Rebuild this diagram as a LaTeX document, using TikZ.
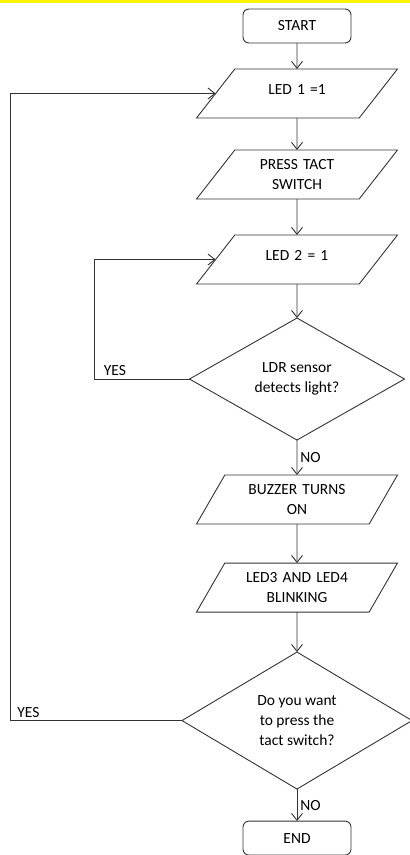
\documentclass[tikz,border=0pt]{standalone}
\usepackage{fontspec}
\setmainfont{Carlito}
\usetikzlibrary{arrows.meta,positioning,shapes.geometric}

\begin{document}
\begin{tikzpicture}[x=1pt, y=-1pt, line width=0.9pt, draw=black!80,
  every node/.style={outer sep=0pt},
  term/.style={draw, rounded corners=6pt, minimum width=108pt, minimum height=34pt, font=\fontsize{15.5}{20}\selectfont},
  io/.style={draw, trapezium, trapezium left angle=52, trapezium right angle=128, inner sep=0pt,
    text width=124.4pt, text height=19.5pt, text depth=29.5pt, align=center, font=\fontsize{15.5}{20}\selectfont},
  oneline/.style={text height=25pt, text depth=24pt},
  steep/.style={trapezium left angle=60, trapezium right angle=120, text width=144.4pt},
  decision/.style={draw, diamond, minimum width=215pt, minimum height=122pt, inner sep=0pt, align=center, font=\fontsize{15.5}{20}\selectfont},
  arrow/.style={-{Straight Barb[length=7pt, width=11pt]}},
  tag/.style={font=\fontsize{15.5}{20}\selectfont},
]
\useasboundingbox (0,0) rectangle (410,855);
\fill[yellow] (0,0) rectangle (410,2.5);

% Nodes
\node[term] (start) at (297,26) {START};
\node[io, oneline, below=26pt of start] (led1) {LED 1 =1};
\node[io, below=32pt of led1] (press) {PRESS TACT\\SWITCH};
\node[io, oneline, below=36pt of press] (led2) {LED 2 = 1};
\node[decision, below=34pt of led2] (ldr) {LDR sensor\\detects light?};
\node[io, steep, below=35pt of ldr] (buzz) {BUZZER TURNS\\ON};
\node[io, steep, below=39pt of buzz] (blink) {LED3 AND LED4\\BLINKING};
\node[decision, minimum width=230pt, minimum height=137pt, below=40pt of blink] (again) {Do you want\\to press the\\tact switch?};
\node[term, below=32pt of again] (end) {END};

% Arrows
\draw[arrow] (start) -- (led1);
\draw[arrow] (led1) -- (press);
\draw[arrow] (press) -- (led2);
\draw[arrow] (led2) -- (ldr);
\draw[arrow] (ldr) -- (buzz) node[midway, right, tag] {NO};
\draw[arrow] (buzz) -- (blink);
\draw[arrow] (blink) -- (again);
\draw[arrow] (again) -- (end) node[midway, right, tag] {NO};

% Loops back
\draw[arrow] (ldr.west) -- ++(-95,0) node[above right, xshift=6pt, tag] {YES} |- (led2);
\draw[arrow] (again.west) -- ++(-172,0) node[above right, xshift=4pt, tag] {YES} |- (led1);

\end{tikzpicture}
\end{document}
